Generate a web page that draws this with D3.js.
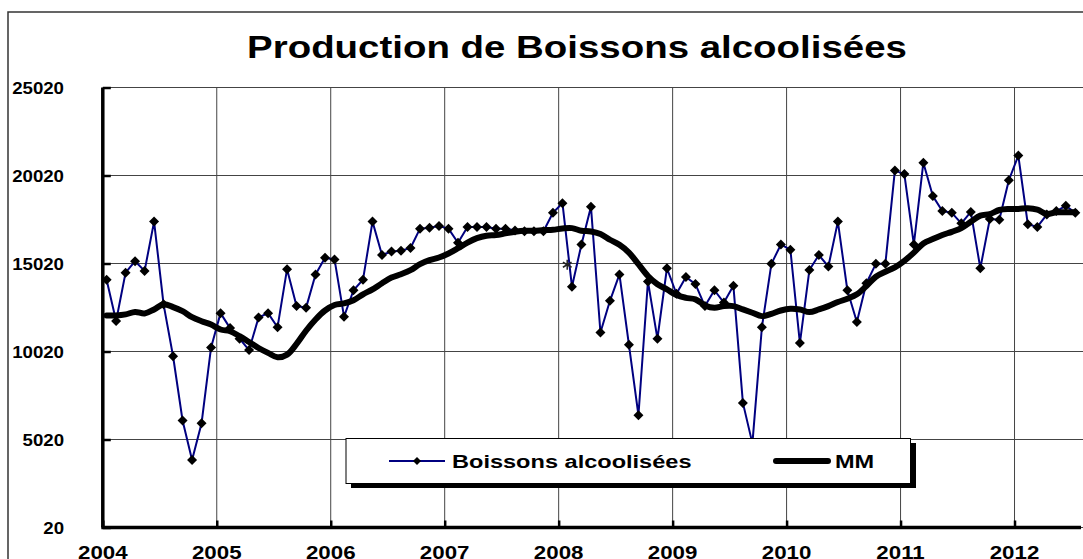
<!DOCTYPE html>
<html>
<head>
<meta charset="utf-8">
<script src="https://cdn.jsdelivr.net/npm/d3@7"></script>
<style>
  html, body { margin: 0; padding: 0; background: #fff; }
  svg { display: block; }
  text { font-family: "Liberation Sans", Arial, sans-serif; font-weight: bold; fill: #000; }
</style>
</head>
<body>
<svg id="chart" width="1083" height="559"></svg>
<script>
// ---------------- DATA ----------------
const startYear = 2004;
const yearLabels = ["2004","2005","2006","2007","2008","2009","2010","2011","2012"];
const yTicks = [20, 5020, 10020, 15020, 20020, 25020];

// Monthly production, Jan 2004 .. Jul 2012
const boissons = [
  14100, 11750, 14500, 15150, 14600, 17400, 12700, 9750, 6100, 3850, 5950, 10250,   // 2004
  12200, 11350, 10750, 10100, 11950, 12200, 11400, 14700, 12600, 12500, 14400, 15350, // 2005
  15250, 12000, 13500, 14100, 17400, 15500, 15700, 15750, 15900, 17000, 17050, 17150, // 2006
  17000, 16200, 17100, 17100, 17100, 17000, 17000, 16900, 16850, 16850, 16850, 17900, // 2007
  18450, 13700, 16100, 18250, 11100, 12900, 14400, 10400, 6400, 14000, 10750, 14750,  // 2008
  13300, 14250, 13850, 12600, 13500, 12800, 13750, 7100, 4800, 11400, 15000, 16100,   // 2009
  15800, 10500, 14650, 15500, 14850, 17400, 13500, 11700, 13900, 15000, 15000, 20300, // 2010
  20100, 16100, 20750, 18850, 18000, 17900, 17300, 17950, 14750, 17550, 17500, 19750, // 2011
  21150, 17250, 17100, 17800, 18000, 18300, 17900                                     // 2012
];

// Moving average (MM)
const mm = [
  12070, 12070, 12130, 12270, 12180, 12410, 12700, 12540, 12310, 11970, 11740, 11550,
  11270, 11170, 10890, 10560, 10220, 9940, 9690, 9840, 10450, 11200, 11840, 12350,
  12660, 12750, 12930, 13270, 13550, 13900, 14220, 14410, 14640, 14980, 15210, 15360,
  15590, 15890, 16210, 16460, 16600, 16640, 16730, 16820, 16880, 16880, 16920, 16940,
  17010, 17030, 16880, 16840, 16690, 16370, 16080, 15640, 14980, 14310, 13840, 13550,
  13230, 13070, 12980, 12640, 12500, 12600, 12600, 12410, 12220, 12030, 12160, 12350,
  12450, 12410, 12260, 12410, 12600, 12830, 13020, 13270, 13740, 14270, 14550, 14800,
  15170, 15640, 16160, 16410, 16640, 16820, 17030, 17390, 17740, 17830, 18060, 18120,
  18120, 18160, 18080, 17830, 17930, 17930, 17930
];

// stray asterisk marker seen on the original (month position, value)
const starMarks = [{ pos: 48.5, value: 14950 }];

const legendLabels = ["Boissons alcoolisées", "MM"];
const titleText = "Production de Boissons alcoolisées";

// ---------------- LAYOUT ----------------
const svg = d3.select("#chart");
const SX = 1.24;                 // horizontal text stretch of the original picture
const plot = { left: 102.8, right: 1081, top: 87.5, bottom: 527.5 };
const monthOffset = 0.4;

const x = d3.scaleLinear().domain([0, 103]).range([plot.left, plot.right]);
const y = d3.scaleLinear().domain([20, 25020]).range([plot.bottom, plot.top]);

function stretchedText(g, tx, ty, str, size, anchor, sx) {
  return g.append("text")
    .attr("transform", `translate(${tx},${ty}) scale(${sx || SX},1)`)
    .attr("text-anchor", anchor || "start")
    .style("font-size", size + "px")
    .text(str);
}

// background + outer frame
svg.append("rect").attr("width", 1083).attr("height", 559).attr("fill", "#fff");
svg.append("rect").attr("x", 8).attr("y", 12).attr("width", 1200).attr("height", 700)
  .attr("fill", "none").attr("stroke", "#333").attr("stroke-width", 1.5);

// title
stretchedText(svg, 577, 58, titleText, 31, "middle");

// gridlines
const grid = svg.append("g");
grid.selectAll("line.h").data(yTicks).join("line")
  .attr("x1", plot.left).attr("x2", 1083)
  .attr("y1", d => y(d)).attr("y2", d => y(d))
  .attr("stroke", "#444").attr("stroke-width", 1);
grid.selectAll("line.v").data(yearLabels.slice(1)).join("line")
  .attr("x1", (d, i) => x((i + 1) * 12)).attr("x2", (d, i) => x((i + 1) * 12))
  .attr("y1", plot.top).attr("y2", plot.bottom)
  .attr("stroke", "#444").attr("stroke-width", 1);

// axes (d3 axes, inner ticks)
const yAxis = d3.axisLeft(y).tickValues(yTicks).tickSize(-8).tickFormat("");
const gy = svg.append("g").attr("transform", `translate(${plot.left},0)`).call(yAxis);
gy.select(".domain").attr("stroke", "#000").attr("stroke-width", 3.5).attr("d", `M0,${plot.top}V${plot.bottom}`);
gy.selectAll(".tick line").attr("stroke", "#000").attr("stroke-width", 2.5);

const xTickVals = yearLabels.map((d, i) => i * 12);
const xAxis = d3.axisBottom(x).tickValues(xTickVals).tickSize(-7).tickFormat("");
const gx = svg.append("g").attr("transform", `translate(0,${plot.bottom})`).call(xAxis);
gx.select(".domain").attr("stroke", "#000").attr("stroke-width", 3.5).attr("d", `M${plot.left - 1.5},0H${plot.right}`);
gx.selectAll(".tick line").attr("stroke", "#000").attr("stroke-width", 2.5);

// tick labels
const yl = svg.append("g");
yTicks.forEach(v => stretchedText(yl, 64, y(v) + 6, String(v), 16.5, "end", 1.13));
const xl = svg.append("g");
yearLabels.forEach((lab, i) => stretchedText(xl, x(i * 12), 558.5, lab, 18, "middle"));

// series
const pts = boissons.map((v, i) => ({ i, v }));
const lineMain = d3.line().x(d => x(d.i + monthOffset)).y(d => y(d.v));
svg.append("path").datum(pts).attr("d", lineMain)
  .attr("fill", "none").attr("stroke", "#000080").attr("stroke-width", 2).attr("stroke-linejoin", "round");

const diamond = (r) => `M0,${-r}L${r},0L0,${r}L${-r},0Z`;
svg.append("g").selectAll("path").data(pts).join("path")
  .attr("transform", d => `translate(${x(d.i + monthOffset)},${y(d.v)})`)
  .attr("d", diamond(5)).attr("fill", "#000");

// asterisk
starMarks.forEach(s => {
  const g = svg.append("g").attr("transform", `translate(${x(s.pos + monthOffset)},${y(s.value)})`);
  [0, 60, 120].forEach(a => {
    g.append("line").attr("x1", -5).attr("x2", 5).attr("y1", 0).attr("y2", 0)
      .attr("transform", `rotate(${a + 90})`).attr("stroke", "#222").attr("stroke-width", 1.5);
  });
});

const mmPts = mm.map((v, i) => ({ i, v }));
const lineMM = d3.line().x(d => x(d.i + monthOffset)).y(d => y(d.v)).curve(d3.curveCatmullRom.alpha(0.5));
svg.append("path").datum(mmPts).attr("d", lineMM)
  .attr("fill", "none").attr("stroke", "#000").attr("stroke-width", 6)
  .attr("stroke-linejoin", "round").attr("stroke-linecap", "round");

// legend
const lg = svg.append("g");
lg.append("rect").attr("x", 351).attr("y", 443).attr("width", 565).attr("height", 45).attr("fill", "#000");
lg.append("rect").attr("x", 346).attr("y", 438.5).attr("width", 564.5).attr("height", 45)
  .attr("fill", "#fff").attr("stroke", "#000").attr("stroke-width", 1);
lg.append("line").attr("x1", 389).attr("x2", 445).attr("y1", 461).attr("y2", 461)
  .attr("stroke", "#000080").attr("stroke-width", 2);
lg.append("path").attr("transform", "translate(417,461)").attr("d", diamond(4)).attr("fill", "#000");
stretchedText(lg, 452, 467.5, legendLabels[0], 19, "start");
lg.append("line").attr("x1", 776).attr("x2", 828).attr("y1", 461).attr("y2", 461)
  .attr("stroke", "#000").attr("stroke-width", 6).attr("stroke-linecap", "round");
stretchedText(lg, 835, 467.5, legendLabels[1], 19, "start");
</script>
</body>
</html>
